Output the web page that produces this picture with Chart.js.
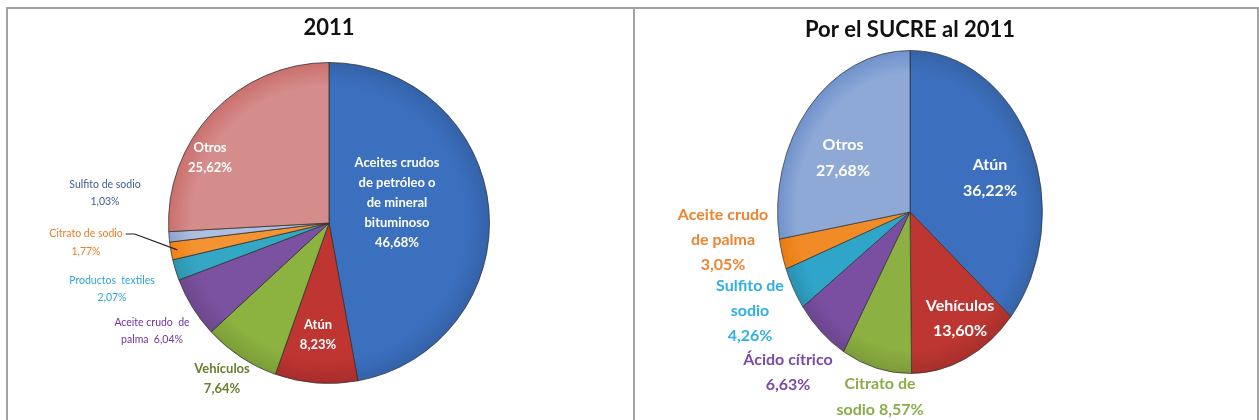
<!DOCTYPE html>
<html>
<head>
<meta charset="utf-8">
<script src="https://cdn.jsdelivr.net/npm/chart.js@4"></script>
<style>
  body { margin: 0; background: #fff; width: 1259px; height: 420px; overflow: hidden; position: relative; }
  .panel { position: absolute; top: 7px; height: 420px; box-sizing: border-box; border: 2px solid #a3a3a3; border-bottom: none; background: #fff; }
  #leftPanel { left: 6px; width: 629px; }
  #rightPanel { left: 635px; width: 624px; border-left: none; }
  canvas { display: block; }
</style>
</head>
<body>
<div class="panel" id="leftPanel"><canvas id="pie2011" width="625" height="411"></canvas></div>
<div class="panel" id="rightPanel"><canvas id="pieSucre" width="622" height="411"></canvas></div>

<script>
// 2011 (todas las exportaciones)
const leftTitle = '2011';
const leftCategories = ['Aceites crudos de petróleo o de mineral bituminoso', 'Atún', 'Vehículos',
  'Aceite crudo de palma', 'Productos textiles', 'Citrato de sodio', 'Sulfito de sodio', 'Otros'];
const leftValues = [46.68, 8.23, 7.64, 6.04, 2.07, 1.77, 1.03, 25.62];
const leftNames = [['Aceites crudos', 'de petróleo o', 'de mineral', 'bituminoso'], ['Atún'], ['Vehículos'],
  ['Aceite crudo  de', 'palma '], ['Productos  textiles'], ['Citrato de sodio'], ['Sulfito de sodio'], ['Otros']];

// Por el SUCRE al 2011
const rightTitle = 'Por el SUCRE al 2011';
const rightCategories = ['Atún', 'Vehículos', 'Citrato de sodio', 'Ácido cítrico', 'Sulfito de sodio',
  'Aceite crudo de palma', 'Otros'];
const rightValues = [36.22, 13.60, 8.57, 6.63, 4.26, 3.05, 27.68];
const rightNames = [['Atún'], ['Vehículos'], ['Citrato de', 'sodio'], ['Ácido cítrico'], ['Sulfito de', 'sodio'],
  ['Aceite crudo', 'de palma'], ['Otros']];

const pct = v => v.toFixed(2).replace('.', ',') + '%';

// dibuja las etiquetas de cada porción
const sliceLabels = {
  id: 'sliceLabels',
  afterDatasetsDraw(chart, args, opts) {
    const ctx = chart.ctx;
    const arcs = chart.getDatasetMeta(0).data;
    const values = chart.data.datasets[0].data;
    ctx.save();
    ctx.textAlign = 'center';
    ctx.textBaseline = 'middle';
    arcs.forEach((arc, i) => {
      const s = opts.items[i];
      const lines = opts.names[i].slice();
      if (s.inline) lines[lines.length - 1] += ' ' + pct(values[i]);
      else lines.push(pct(values[i]));
      ctx.font = s.font;
      ctx.fillStyle = s.color;
      const cx = arc.x + s.dx, cy = arc.y + s.dy;
      const top = cy - (lines.length - 1) * s.lh / 2;
      lines.forEach((t, k) => ctx.fillText(t, cx, top + k * s.lh));
      if (s.leader) {
        const w = ctx.measureText(lines[0]).width;
        const mid = (arc.startAngle + arc.endAngle) / 2;
        const x0 = cx + w / 2 + 3, y0 = top;
        ctx.strokeStyle = '#222';
        ctx.lineWidth = 1.2;
        ctx.beginPath();
        ctx.moveTo(x0, y0);
        ctx.lineTo(x0 + 9, y0);
        ctx.lineTo(arc.x + Math.cos(mid) * arc.outerRadius * 0.96, arc.y + Math.sin(mid) * arc.outerRadius * 0.96);
        ctx.stroke();
      }
    });
    ctx.restore();
  }
};

// achata el pastel horizontalmente (elipse)
const squash = {
  id: 'squash',
  beforeDatasetsDraw(chart, args, opts) {
    const a = chart.chartArea;
    const cx = (a.left + a.right) / 2;
    chart.ctx.save();
    chart.ctx.translate(cx, 0);
    chart.ctx.scale(opts.sx, 1);
    chart.ctx.translate(-cx, 0);
  },
  afterDatasetsDraw(chart) {
    chart.ctx.restore();
  }
};

function shade(colors) {
  return ctx => {
    const c = colors[ctx.dataIndex];
    const a = ctx.chart.chartArea;
    if (!a) return c;
    const cx = (a.left + a.right) / 2, cy = (a.top + a.bottom) / 2;
    const r = Math.min(a.right - a.left, a.bottom - a.top) / 2;
    const g = ctx.chart.ctx.createRadialGradient(cx, cy, 0, cx, cy, r);
    g.addColorStop(0, c);
    g.addColorStop(0.85, c);
    g.addColorStop(1, Chart.helpers.color(c).darken(0.12).rgbString());
    return g;
  };
}

const leftColors = ['#3b70bf', '#bf3532', '#8cb240', '#7b52a0', '#34a7c5', '#f39332', '#aebfe0', '#d58d8c'];
const rightColors = ['#3c70be', '#be3632', '#8cb041', '#7a4fa1', '#2fa5c9', '#f18b28', '#8fa9d7'];

const F = 'Lato, "Noto Sans", sans-serif';

new Chart(document.getElementById('pie2011'), {
  type: 'pie',
  data: {
    labels: leftCategories,
    datasets: [{
      data: leftValues,
      backgroundColor: shade(leftColors),
      borderColor: 'rgba(45,45,45,0.75)',
      borderWidth: 1
    }]
  },
  options: {
    responsive: false,
    animation: false,
    events: [],
    layout: { padding: { left: 160, right: 143, top: 0, bottom: 36 } },
    plugins: {
      legend: { display: false },
      tooltip: { enabled: false },
      title: {
        display: true, text: leftTitle, color: '#111',
        font: { family: F, size: 22, weight: 'bold' },
        padding: { top: 6, bottom: 20.6 }
      },
      sliceLabels: {
        names: leftNames,
        items: [
          { dx: 68, dy: -20, lh: 20, color: '#fff', font: `bold 13px ${F}` },
          { dx: -11, dy: 112, lh: 20, color: '#fff', font: `bold 13px ${F}` },
          { dx: -107, dy: 156, lh: 20, color: '#677f2c', font: `bold 13px ${F}` },
          { dx: -177, dy: 108, lh: 17, color: '#7232a0', font: `10.5px ${F}`, inline: true },
          { dx: -217, dy: 66, lh: 17, color: '#2ea6d6', font: `10.5px ${F}` },
          { dx: -243, dy: 20, lh: 18, color: '#e57f27', font: `10.5px ${F}`, leader: true },
          { dx: -224, dy: -30, lh: 17, color: '#41608f', font: `10.5px ${F}` },
          { dx: -119, dy: -65, lh: 20, color: '#fff', font: `bold 13px ${F}` }
        ]
      }
    }
  },
  plugins: [sliceLabels]
});

new Chart(document.getElementById('pieSucre'), {
  type: 'pie',
  data: {
    labels: rightCategories,
    datasets: [{
      data: rightValues,
      backgroundColor: shade(rightColors),
      borderColor: 'rgba(45,45,45,0.75)',
      borderWidth: 1
    }]
  },
  options: {
    responsive: false,
    animation: false,
    events: [],
    layout: { padding: { left: 113, right: 185, top: 0, bottom: 46 } },
    plugins: {
      legend: { display: false },
      tooltip: { enabled: false },
      title: {
        display: true, text: rightTitle, color: '#111',
        font: { family: F, size: 22, weight: 'bold' },
        padding: { top: 7.8, bottom: 6.8 }
      },
      squash: { sx: 0.82 },
      sliceLabels: {
        names: rightNames,
        items: [
          { dx: 80, dy: -34, lh: 26, color: '#fff', font: `bold 16px ${F}` },
          { dx: 50, dy: 106, lh: 25, color: '#fff', font: `bold 16px ${F}` },
          { dx: -30, dy: 185, lh: 26, color: '#8aad4a', font: `bold 16px ${F}`, inline: true },
          { dx: -122, dy: 160, lh: 25, color: '#7a4aa8', font: `bold 16px ${F}` },
          { dx: -160, dy: 99, lh: 25, color: '#2eb0e5', font: `bold 16px ${F}` },
          { dx: -187, dy: 28, lh: 25, color: '#ec8431', font: `bold 16px ${F}` },
          { dx: -67, dy: -54, lh: 26, color: '#fff', font: `bold 16px ${F}` }
        ]
      }
    }
  },
  plugins: [squash, sliceLabels]
});
</script>
</body>
</html>
